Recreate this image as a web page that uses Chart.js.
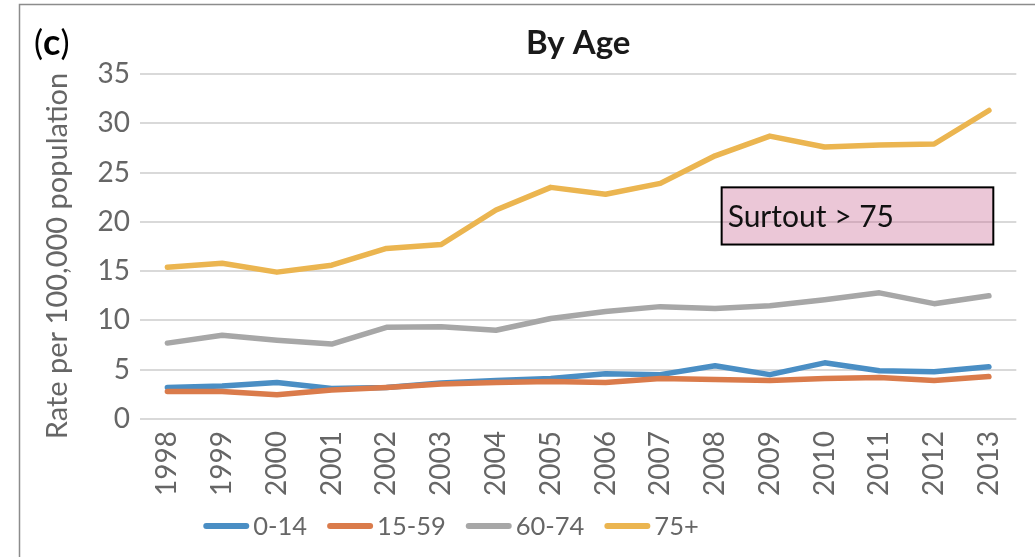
<!DOCTYPE html>
<html>
<head>
<meta charset="utf-8">
<script src="https://cdn.jsdelivr.net/npm/chart.js@4.4.0/dist/chart.umd.min.js"></script>
<style>
  html, body { margin: 0; padding: 0; background: #fff; }
  #cadre { position: relative; width: 1035px; height: 557px; }
</style>
</head>
<body>
<div id="cadre"><canvas id="graphAge"></canvas></div>
<script>
// Données (taux pour 100 000 habitants)
const annees = ["1998", "1999", "2000", "2001", "2002", "2003", "2004", "2005",
                "2006", "2007", "2008", "2009", "2010", "2011", "2012", "2013"];
const age0_14   = [3.2, 3.35, 3.7, 3.1, 3.2, 3.65, 3.9, 4.1, 4.6, 4.5, 5.4, 4.5, 5.7, 4.9, 4.8, 5.3];
const age15_59  = [2.8, 2.8, 2.45, 2.95, 3.2, 3.55, 3.7, 3.8, 3.7, 4.1, 4.0, 3.9, 4.1, 4.2, 3.9, 4.3];
const age60_74  = [7.7, 8.5, 8.0, 7.6, 9.3, 9.35, 9.0, 10.2, 10.9, 11.4, 11.2, 11.5, 12.1, 12.8, 11.7, 12.5];
const age75plus = [15.4, 15.8, 14.9, 15.6, 17.3, 17.7, 21.2, 23.5, 22.8, 23.9, 26.7, 28.7, 27.6, 27.8, 27.9, 31.3];
const groupes = ["0-14", "15-59", "60-74", "75+"];
const ticksY = [0, 5, 10, 15, 20, 25, 30, 35];

const titre = "By Age";
const titreY = "Rate per 100,000 population";
const note = "Surtout > 75";

const couleurs = ["#4a8ec4", "#da7b4b", "#a7a7a7", "#ebb550"];
const gris = "#666666";
const police = "Lato";

// Textes, encadré et légende dessinés à la main
const decor = {
    id: "decor",
    beforeDraw(chart) {
        const ctx = chart.ctx;
        ctx.save();
        ctx.strokeStyle = "#8c8c8c";
        ctx.lineWidth = 1.5;
        ctx.beginPath();
        ctx.moveTo(19.5, chart.height);
        ctx.lineTo(19.5, 4.5);
        ctx.lineTo(chart.width, 4.5);
        ctx.stroke();
        ctx.restore();
    },
    afterDatasetsDraw(chart) {
        const ctx = chart.ctx;
        const x = chart.scales.x, y = chart.scales.y;
        // encadré "Surtout > 75", placé sur les échelles
        const gauche = x.getPixelForValue(10.12);
        const droite = x.getPixelForValue(15.08);
        const haut = y.getPixelForValue(23.5);
        const bas = y.getPixelForValue(17.7);
        ctx.save();
        ctx.fillStyle = "rgba(200, 100, 145, 0.36)";
        ctx.fillRect(gauche, haut, droite - gauche, bas - haut);
        ctx.strokeStyle = "#000";
        ctx.lineWidth = 2;
        ctx.strokeRect(gauche, haut, droite - gauche, bas - haut);
        ctx.fillStyle = "#111";
        ctx.font = "30px " + police;
        ctx.textBaseline = "alphabetic";
        ctx.textAlign = "left";
        ctx.fillText(note, gauche + 6, haut + 40);
        ctx.restore();
    },
    afterDraw(chart) {
        const ctx = chart.ctx;
        const aire = chart.chartArea;
        ctx.save();
        // titre
        ctx.fillStyle = "#1a1a1a";
        ctx.font = "bold 33px " + police;
        ctx.textAlign = "center";
        ctx.textBaseline = "alphabetic";
        ctx.fillText(titre, (aire.left + aire.right) / 2, 54);
        // (c)
        ctx.textAlign = "left";
        ctx.font = "34px " + police;
        ctx.fillStyle = "#000";
        let px = 34;
        ctx.fillText("(", px, 55);
        px += ctx.measureText("(").width;
        ctx.font = "bold 36px " + police;
        ctx.fillText("c", px, 55);
        px += ctx.measureText("c").width;
        ctx.font = "34px " + police;
        ctx.fillText(")", px, 55);
        // titre de l'axe Y
        ctx.save();
        ctx.translate(58, 256);
        ctx.rotate(-Math.PI / 2);
        ctx.font = "29px " + police;
        ctx.fillStyle = gris;
        ctx.textAlign = "center";
        ctx.textBaseline = "middle";
        ctx.fillText(titreY, 0, 0);
        ctx.restore();
        // légende
        ctx.font = "25.5px " + police;
        const trait = 46, ecart = 4, espace = 20;
        let total = 0;
        groupes.forEach(g => { total += trait + ecart + ctx.measureText(g).width; });
        total += espace * (groupes.length - 1);
        let lx = 451 - total / 2;
        const ly = 526;
        groupes.forEach((g, i) => {
            ctx.strokeStyle = couleurs[i];
            ctx.lineWidth = 6;
            ctx.lineCap = "round";
            ctx.beginPath();
            ctx.moveTo(lx + 3, ly);
            ctx.lineTo(lx + trait - 3, ly);
            ctx.stroke();
            ctx.fillStyle = gris;
            ctx.textAlign = "left";
            ctx.textBaseline = "middle";
            ctx.fillText(g, lx + trait + ecart, ly + 1);
            lx += trait + ecart + ctx.measureText(g).width + espace;
        });
        ctx.restore();
    }
};

const series = [age0_14, age15_59, age60_74, age75plus];
const ctx = document.getElementById("graphAge").getContext("2d");

new Chart(ctx, {
    type: "line",
    data: {
        labels: annees,
        datasets: series.map((valeurs, i) => ({
            label: groupes[i],
            data: valeurs,
            borderColor: couleurs[i],
            backgroundColor: couleurs[i],
            borderWidth: 5.5,
            borderCapStyle: "round",
            borderJoinStyle: "round",
            pointRadius: 0,
            tension: 0,
            fill: false,
            order: series.length - i
        }))
    },
    options: {
        responsive: true,
        maintainAspectRatio: false,
        animation: false,
        layout: { padding: { top: 74, right: 15, bottom: 40, left: 0 } },
        plugins: {
            legend: { display: false },
            tooltip: { enabled: false }
        },
        scales: {
            x: {
                offset: true,
                grid: { display: false, drawTicks: false },
                border: { display: false },
                ticks: {
                    color: gris,
                    font: { family: police, size: 28 },
                    minRotation: 90,
                    maxRotation: 90,
                    padding: 12,
                    autoSkip: false
                },
                afterFit(scale) { scale.height = 98; }
            },
            y: {
                min: 0,
                max: 35,
                afterBuildTicks(scale) { scale.ticks = ticksY.map(v => ({ value: v })); },
                grid: { color: "#d9d9d9", lineWidth: 2, drawTicks: false },
                border: { display: false },
                ticks: {
                    color: gris,
                    font: { family: police, size: 28 },
                    padding: 10
                },
                afterFit(scale) { scale.width = 140; }
            }
        }
    },
    plugins: [decor]
});
</script>
</body>
</html>
